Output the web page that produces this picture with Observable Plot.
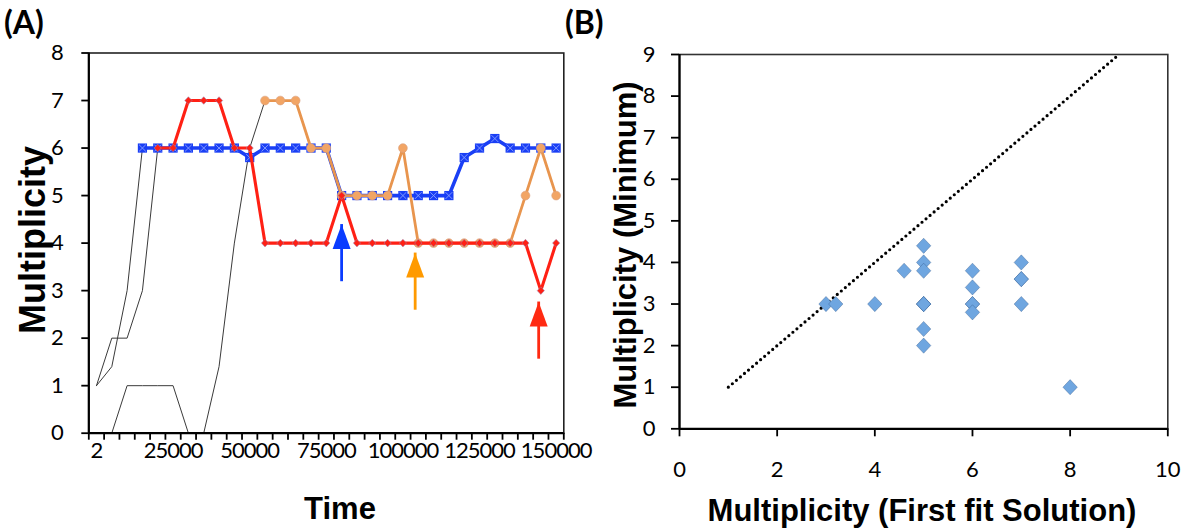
<!DOCTYPE html>
<html>
<head>
<meta charset="utf-8">
<script src="https://cdn.jsdelivr.net/npm/d3@7"></script>
<script src="https://cdn.jsdelivr.net/npm/@observablehq/plot@0.6"></script>
<style>
  html, body { margin: 0; padding: 0; background: #fff; }
  #wrap { position: relative; width: 1184px; height: 529px; overflow: hidden; background: #fff; }
  .panel { position: absolute; top: 0; }
  .lbl { position: absolute; white-space: nowrap; font-family: "Liberation Sans", Arial, sans-serif; font-weight: bold; font-size: 31px; color: #000; transform: translate(-50%, -50%); line-height: 1; }
  .rot { transform: translate(-50%, -50%) rotate(-90deg); }
  .tag { position: absolute; white-space: nowrap; font-family: Lato, "Open Sans", sans-serif; font-weight: bold; font-size: 32px; color: #000; line-height: 1; }
  #panelA .xlab text { letter-spacing: -1px; }
</style>
</head>
<body>
<div id="wrap">
  <div id="panelA" class="panel" style="left:0px"></div>
  <div id="panelB" class="panel" style="left:590px"></div>
  <div class="tag" style="left:4px; top:6px">(A)</div>
  <div class="tag" style="left:565px; top:6px">(B)</div>
  <div class="lbl rot" style="left:33px; top:240px; font-size:36px">Multiplicity</div>
  <div class="lbl" style="left:340px; top:508px">Time</div>
  <div class="lbl rot" style="left:625px; top:245px">Multiplicity (Minimum)</div>
  <div class="lbl" style="left:922px; top:510px">Multiplicity (First fit Solution)</div>
</div>
<script>
// ---------- Panel A data ----------
const times = [2, 5000, 10000, 15000, 20000, 25000, 30000, 35000, 40000, 45000, 50000,
  55000, 60000, 65000, 70000, 75000, 80000, 85000, 90000, 95000, 100000,
  105000, 110000, 115000, 120000, 125000, 130000, 135000, 140000, 145000, 150000];
const xTickLabels = [2, 25000, 50000, 75000, 100000, 125000, 150000];
const yTicksA = [0, 1, 2, 3, 4, 5, 6, 7, 8];

const blueVals = [null, null, null, 6, 6, 6, 6, 6, 6, 6, 5.8, 6, 6, 6, 6, 6,
  5, 5, 5, 5, 5, 5, 5, 5, 5.8, 6, 6.2, 6, 6, 6, 6];
const redVals = [null, null, null, null, 6, 6, 7, 7, 7, 6, 6, 4, 4, 4, 4, 4,
  5, 4, 4, 4, 4, 4, 4, 4, 4, 4, 4, 4, 4, 3, 4];
const orangeVals = [null, null, null, null, null, null, null, null, null, null, null,
  7, 7, 7, 6, 6, 5, 5, 5, 5, 6, 4, 4, 4, 4, 4, 4, 4, 5, 6, 5];
const black1Vals = [1, 1.4, 3, 6, null, null, null, null, null, null, null, null];
const black2Vals = [1, 2, 2, 3, 6, null, null, null, null, null, null, null];
const black3Vals = [null, 0, 1, 1, 1, 1, 0, 0, 1.4, 4, 6, 7];

const arrowTimes = [80000, 104000, 144300];
const arrowTops = [4.39, 3.79, 2.76];
const arrowBottoms = [3.44, 2.84, 1.81];
const arrowColors = ["#0a3cff", "#ff9a00", "#ff2a12"];

// ---------- Panel B data ----------
const firstFit = [3, 3.2, 4, 4.6, 5, 5, 5, 5, 5, 5, 5, 5, 6, 6, 6, 6, 6, 7, 7, 7, 7, 8];
const minimum  = [3, 3, 3, 3.8, 4.4, 4, 3.8, 3, 3, 3, 2.4, 2, 3.8, 3.4, 3, 3, 2.8, 4, 3.6, 3.6, 3, 1];
const diagX = [1, 9];
const diagY = [1, 9];
const xTicksB = [0, 2, 4, 6, 8, 10];
const yTicksB = [0, 1, 2, 3, 4, 5, 6, 7, 8, 9];

// ---------- build tables ----------
const series = (vals) => times.slice(0, vals.length).map((t, i) => ({t, v: vals[i]})).filter(d => d.v != null);
const blueData = series(blueVals);
const redData = series(redVals);
const orangeData = series(orangeVals);
const blackData = [
  ...series(black1Vals).map(d => ({...d, s: "a"})),
  ...series(black2Vals).map(d => ({...d, s: "b"})),
  ...series(black3Vals).map(d => ({...d, s: "c"}))
];
const arrows = arrowTimes.map((t, i) => ({t, top: arrowTops[i], bottom: arrowBottoms[i], color: arrowColors[i]}));
const pointsB = firstFit.map((x, i) => ({x, y: minimum[i]}));
const diag = diagX.map((x, i) => ({x, y: diagY[i]}));

// category boundaries for the minor tick marks of the category axis
const step = times[2] - times[1];
const boundaries = d3.range(times.length + 1).map(i => (i - 0.5) * step);

const arrowHead = { draw(ctx) { ctx.moveTo(0, 0); ctx.lineTo(9, 24.5); ctx.lineTo(-9, 24.5); ctx.closePath(); } };
const diamond = { draw(ctx) { ctx.moveTo(0, -7.6); ctx.lineTo(7.2, 0); ctx.lineTo(0, 7.6); ctx.lineTo(-7.2, 0); ctx.closePath(); } };
const smallDiamond = { draw(ctx) { ctx.moveTo(0, -3.8); ctx.lineTo(3.6, 0); ctx.lineTo(0, 3.8); ctx.lineTo(-3.6, 0); ctx.closePath(); } };

const baseStyle = {fontFamily: "Lato, 'Open Sans', sans-serif", fontSize: "22px", background: "transparent", color: "black", overflow: "visible"};

const BLUE = "#1a3ff5", RED = "#ff2014", ORANGE = "#e8954e", ORANGE_DOT = "#f2a565";

const xDomA = [boundaries[0], boundaries[boundaries.length - 1]];

const chartA = Plot.plot({
  width: 590, height: 529,
  marginLeft: 88.3, marginRight: 26.7, marginTop: 52.5, marginBottom: 96.3,
  x: {domain: xDomA},
  y: {domain: [0, 8]},
  color: {type: "identity"},
  style: baseStyle,
  marks: [
    Plot.frame({stroke: "#222", strokeWidth: 1.6}),
    Plot.line(blackData, {x: "t", y: "v", z: "s", stroke: "#3a3a3a", strokeWidth: 1}),
    Plot.line(blueData, {x: "t", y: "v", stroke: BLUE, strokeWidth: 3.6}),
    Plot.dot(blueData, {x: "t", y: "v", symbol: "square", r: 5.2, fill: BLUE}),
    Plot.dot(blueData, {x: "t", y: "v", symbol: "times", r: 3.2, stroke: "#8aa0ff", strokeWidth: 0.9}),
    Plot.line(orangeData, {x: "t", y: "v", stroke: ORANGE, strokeWidth: 2.8}),
    Plot.dot(orangeData, {x: "t", y: "v", symbol: "circle", r: 4.4, fill: ORANGE_DOT, stroke: "#d8a080", strokeWidth: 0.6}),
    Plot.line(redData, {x: "t", y: "v", stroke: RED, strokeWidth: 3.1}),
    Plot.dot(redData, {x: "t", y: "v", symbol: smallDiamond, fill: RED, stroke: "#9a8ab8", strokeOpacity: 0.55, strokeWidth: 1}),
    Plot.ruleX(arrows, {x: "t", y1: "bottom", y2: "top", insetTop: 12, stroke: "color", strokeWidth: 2.8}),
    Plot.dot(arrows, {x: "t", y: "top", symbol: arrowHead, fill: "color"}),
    Plot.ruleY([0], {stroke: "black", strokeWidth: 2.2}),
    Plot.ruleX([xDomA[0]], {stroke: "black", strokeWidth: 2.2}),
    Plot.axisY(yTicksA, {tickSize: 7, tickPadding: 18, strokeWidth: 1.8, label: null}),
    Plot.axisX(boundaries, {tickSize: 7, tickFormat: () => "", strokeWidth: 1.8, label: null}),
    Plot.axisX(xTickLabels, {tickSize: 0, tickPadding: 9, tickFormat: d => String(d), label: null, className: "xlab"})
  ]
});
document.getElementById("panelA").appendChild(chartA);

const chartB = Plot.plot({
  width: 594, height: 529,
  marginLeft: 89, marginRight: 16.7, marginTop: 54, marginBottom: 100.7,
  x: {domain: [0, 10]},
  y: {domain: [0, 9]},
  style: baseStyle,
  marks: [
    Plot.frame({stroke: "#333", strokeWidth: 1.6}),
    Plot.line(diag, {x: "x", y: "y", stroke: "black", strokeWidth: 3.2, strokeDasharray: "0 5.3", strokeLinecap: "round"}),
    Plot.dot(pointsB, {x: "x", y: "y", symbol: diamond, fill: "#6fa6e0", stroke: "#2c4f80", strokeOpacity: 0.35, strokeWidth: 1}),
    Plot.ruleY([0], {stroke: "black", strokeWidth: 2.2}),
    Plot.ruleX([0], {stroke: "black", strokeWidth: 2.2}),
    Plot.axisY(yTicksB, {tickSize: 8, tickPadding: 16, strokeWidth: 1.8, label: null}),
    Plot.axisX(xTicksB, {tickSize: 8, tickPadding: 25, strokeWidth: 1.8, label: null})
  ]
});
document.getElementById("panelB").appendChild(chartB);
</script>
</body>
</html>
